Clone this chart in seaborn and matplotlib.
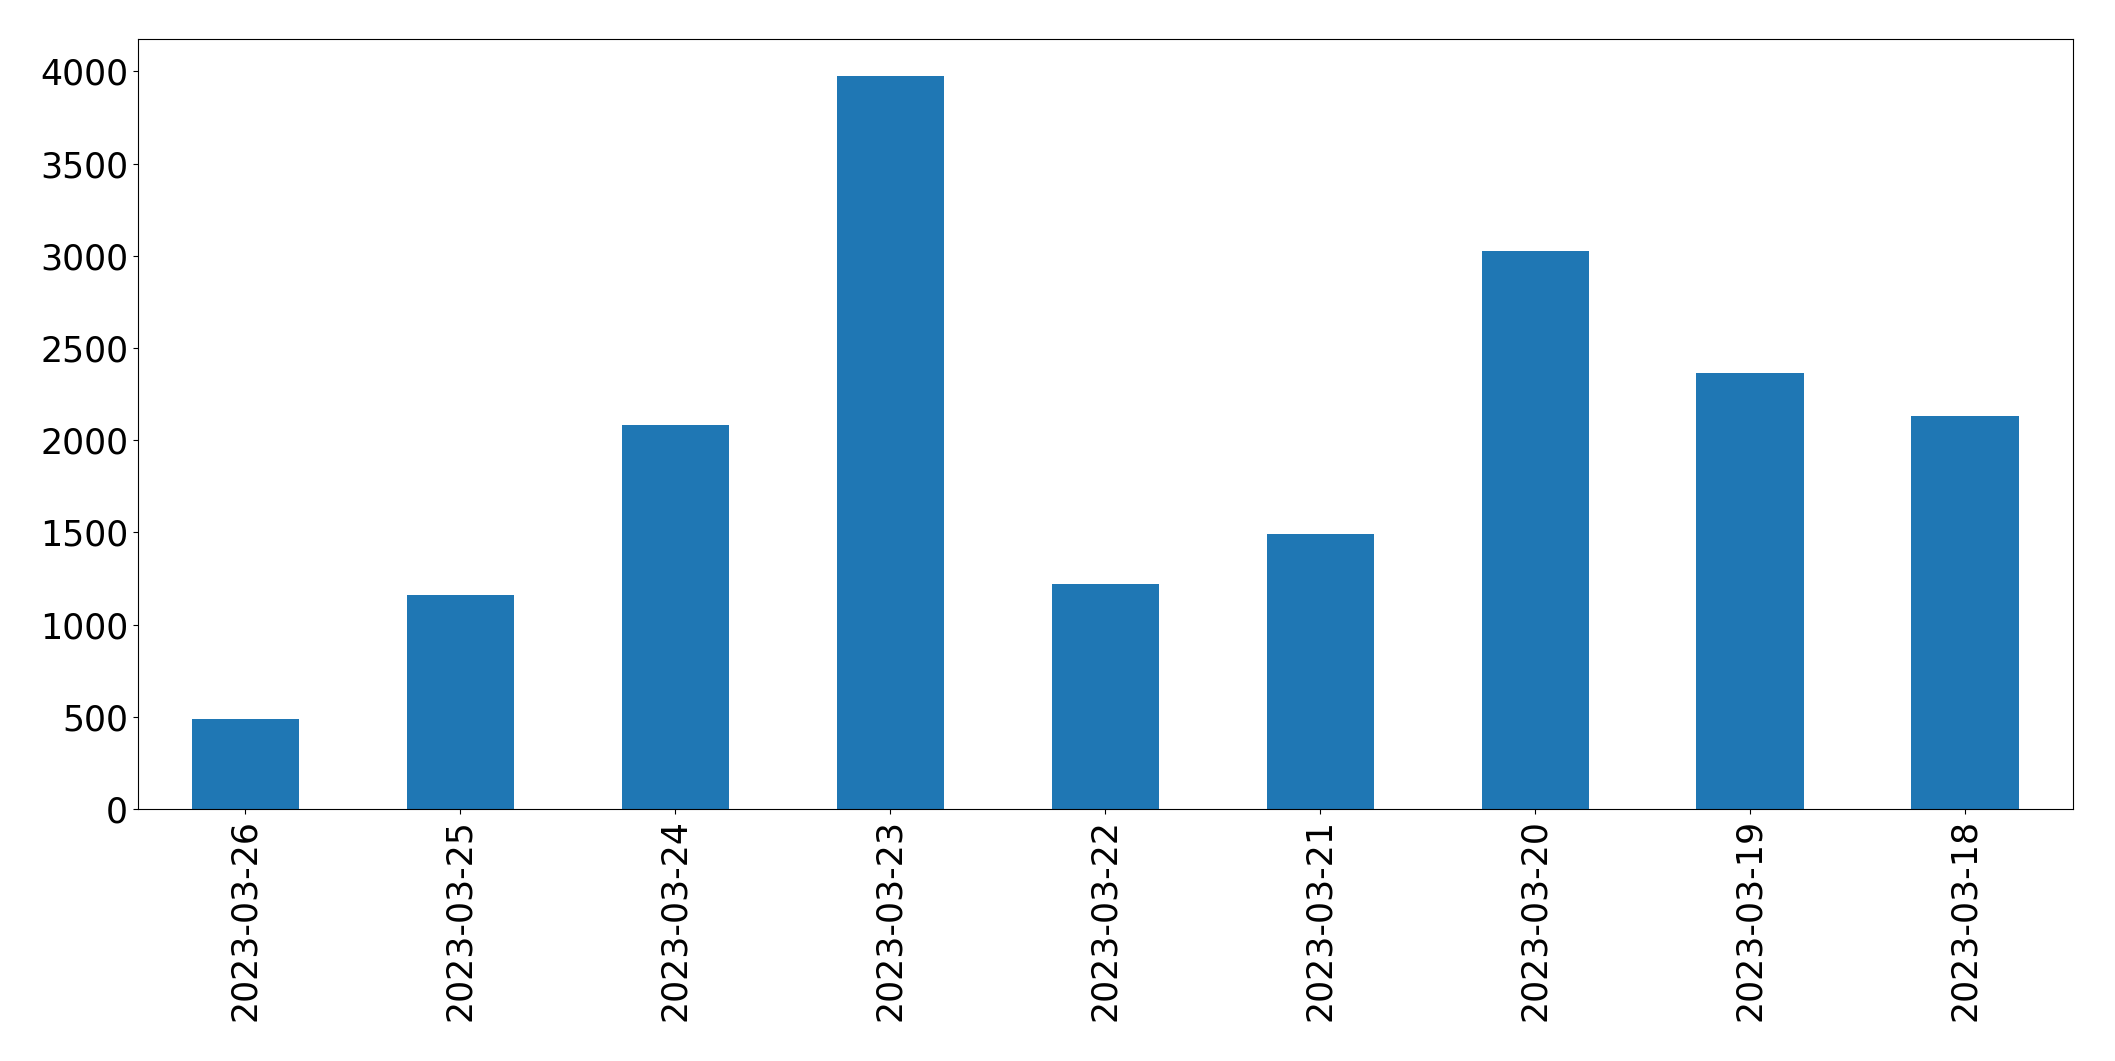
import matplotlib
matplotlib.use("Agg")
import matplotlib.pyplot as plt
import seaborn as sns
import pandas as pd

# Daily counts, newest first (as in the original)
dates = ["2023-03-26", "2023-03-25", "2023-03-24", "2023-03-23", "2023-03-22",
         "2023-03-21", "2023-03-20", "2023-03-19", "2023-03-18"]
counts = [488, 1160, 2082, 3975, 1220, 1490, 3027, 2364, 2131]

df = pd.DataFrame({"date": dates, "count": counts})

fig = plt.figure(figsize=(21.15, 10.61), dpi=100)
ax = fig.add_axes([0.0652, 0.2375, 0.9148, 0.7255])
sns.barplot(data=df, x="date", y="count", color="#1f77b4", width=0.5,
            saturation=1, ax=ax)
ax.set_xlim(-0.5, len(dates) - 0.5)
ax.set_xlabel("")
ax.set_ylabel("")
ax.tick_params(axis="both", labelsize=25)
ax.tick_params(axis="x", labelrotation=90)

fig.savefig("out.png", dpi=100)
